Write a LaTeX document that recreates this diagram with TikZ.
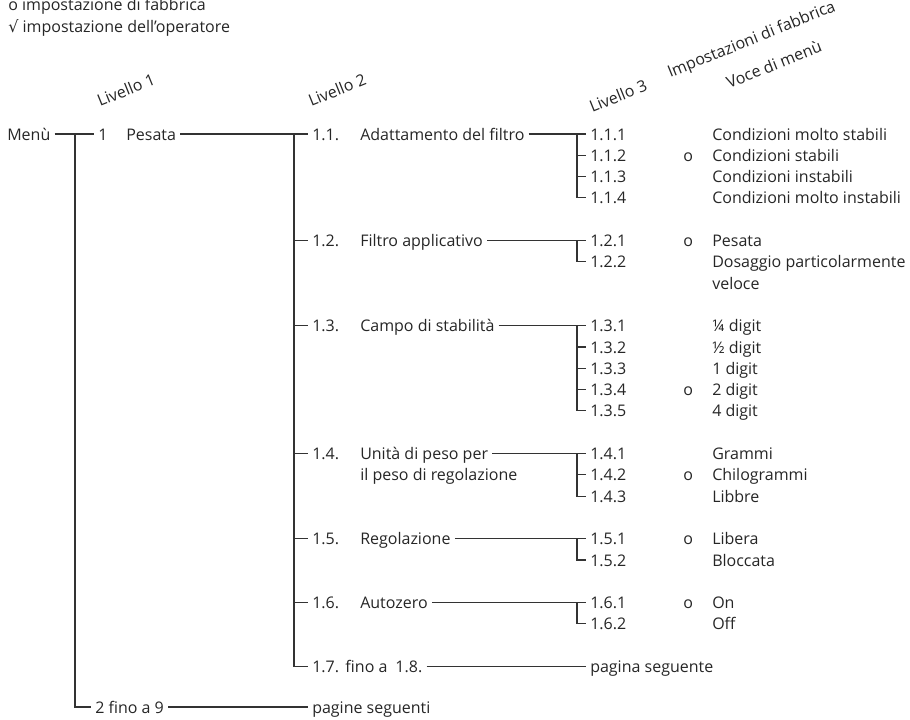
\documentclass[tikz,border=0pt]{standalone}
\usepackage{fontspec}
\setmainfont{Open Sans}
\newfontfamily\symfont{DejaVu Sans}
\begin{document}
\begin{tikzpicture}[x=0.75pt,y=-0.75pt,
  every node/.style={font=\fontsize{12}{16}\selectfont,text=black!85},
  lbl/.style={anchor=west,inner xsep=3pt,inner ysep=0pt,text height=9pt,text depth=0pt},
  hdr/.style={anchor=base west,inner sep=0pt,rotate=22},
  tree/.style={draw=black!80,line width=0.8pt}]
  \useasboundingbox (0,0) rectangle (910,719);

  % legend
  \node[lbl] (leg1) at (4,4.5) {o impostazione di fabbrica};
  \node[lbl] (leg2) at (4,26) {{\symfont √} impostazione dell’operatore};

  % column heads
  \node[hdr] (hd1) at (100,107) {Livello 1};
  \node[hdr] (hd2) at (311,107) {Livello 2};
  \node[hdr] (hd3) at (592,113) {Livello 3};
  \node[hdr] (hd4) at (670,78) {Impostazioni di fabbrica};
  \node[hdr] (hd5) at (729,89) {Voce di menù};

  % spine positions
  \coordinate (s1) at (75,0);
  \coordinate (s2) at (294,0);
  \coordinate (s3) at (577,0);

  % level 1
  \node[lbl] (menu) at (3,134) {Menù};
  \node[lbl] (n1) at (94,134) {1};
  \node[lbl] (pesata) at (122,134) {Pesata};
  \node[lbl] (n2) at (91,707) {2 fino a 9};
  \node[lbl] (more2) at (308,707) {pagine seguenti};

  % level 2
  \node[lbl] (n11) at (308,134) {1.1.};
  \node[lbl] (l11) at (356,134) {Adattamento del filtro};
  \node[lbl] (n12) at (308,240.5) {1.2.};
  \node[lbl] (l12) at (356,240.5) {Filtro applicativo};
  \node[lbl] (n13) at (308,325.7) {1.3.};
  \node[lbl] (l13) at (356,325.7) {Campo di stabilità};
  \node[lbl] (n14) at (308,453.5) {1.4.};
  \node[lbl] (l14) at (356,453.5) {Unità di peso per};
  \node[lbl] (l14b) at (356,474.8) {il peso di regolazione};
  \node[lbl] (n15) at (308,538.7) {1.5.};
  \node[lbl] (l15) at (356,538.7) {Regolazione};
  \node[lbl] (n16) at (308,602.6) {1.6.};
  \node[lbl] (l16) at (356,602.6) {Autozero};
  \node[lbl] (n17) at (308,666.5) {1.7.\hspace{0.4em}fino a\hspace{0.5em}1.8.};
  \node[lbl] (more1) at (586,666.5) {pagina seguente};

  % level 3
  \node[lbl] (n111) at (586,134) {1.1.1};
  \node[lbl] (v111) at (708,134) {Condizioni molto stabili};
  \node[lbl] (n112) at (586,155.3) {1.1.2};
  \node[lbl] (o112) at (679,155.3) {o};
  \node[lbl] (v112) at (708,155.3) {Condizioni stabili};
  \node[lbl] (n113) at (586,176.6) {1.1.3};
  \node[lbl] (v113) at (708,176.6) {Condizioni instabili};
  \node[lbl] (n114) at (586,197.9) {1.1.4};
  \node[lbl] (v114) at (708,197.9) {Condizioni molto instabili};

  \node[lbl] (n121) at (586,240.5) {1.2.1};
  \node[lbl] (o121) at (679,240.5) {o};
  \node[lbl] (v121) at (708,240.5) {Pesata};
  \node[lbl] (n122) at (586,261.8) {1.2.2};
  \node[lbl] (v122) at (708,261.8) {Dosaggio particolarmente};
  \node[lbl] (v122b) at (708,283.1) {veloce};

  \node[lbl] (n131) at (586,325.7) {1.3.1};
  \node[lbl] (v131) at (708,325.7) {¼ digit};
  \node[lbl] (n132) at (586,347) {1.3.2};
  \node[lbl] (v132) at (708,347) {½ digit};
  \node[lbl] (n133) at (586,368.3) {1.3.3};
  \node[lbl] (v133) at (708,368.3) {1 digit};
  \node[lbl] (n134) at (586,389.6) {1.3.4};
  \node[lbl] (o134) at (679,389.6) {o};
  \node[lbl] (v134) at (708,389.6) {2 digit};
  \node[lbl] (n135) at (586,410.9) {1.3.5};
  \node[lbl] (v135) at (708,410.9) {4 digit};

  \node[lbl] (n141) at (586,453.5) {1.4.1};
  \node[lbl] (v141) at (708,453.5) {Grammi};
  \node[lbl] (n142) at (586,474.8) {1.4.2};
  \node[lbl] (o142) at (679,474.8) {o};
  \node[lbl] (v142) at (708,474.8) {Chilogrammi};
  \node[lbl] (n143) at (586,496.1) {1.4.3};
  \node[lbl] (v143) at (708,496.1) {Libbre};

  \node[lbl] (n151) at (586,538.7) {1.5.1};
  \node[lbl] (o151) at (679,538.7) {o};
  \node[lbl] (v151) at (708,538.7) {Libera};
  \node[lbl] (n152) at (586,560) {1.5.2};
  \node[lbl] (v152) at (708,560) {Bloccata};

  \node[lbl] (n161) at (586,602.6) {1.6.1};
  \node[lbl] (o161) at (679,602.6) {o};
  \node[lbl] (v161) at (708,602.6) {On};
  \node[lbl] (n162) at (586,623.9) {1.6.2};
  \node[lbl] (v162) at (708,623.9) {Off};

  % connectors, level 1
  \draw[tree] (menu.east) -- (n1.west);
  \draw[tree] (menu.east -| s1) |- (n2.west);
  \draw[tree] (n2.east) -- (more2.west);
  \draw[tree] (pesata.east) -- (n11.west);

  % connectors, level 2
  \draw[tree] (n11.west -| s2) |- (n17.west);
  \draw[tree] (n12.west -| s2) -- (n12.west);
  \draw[tree] (n13.west -| s2) -- (n13.west);
  \draw[tree] (n14.west -| s2) -- (n14.west);
  \draw[tree] (n15.west -| s2) -- (n15.west);
  \draw[tree] (n16.west -| s2) -- (n16.west);
  \draw[tree] (n17.east) -- (more1.west);

  % connectors, level 3
  \draw[tree] (l11.east) -- (n111.west);
  \draw[tree] (n111.west -| s3) |- (n114.west);
  \draw[tree] (n112.west -| s3) -- (n112.west);
  \draw[tree] (n113.west -| s3) -- (n113.west);

  \draw[tree] (l12.east) -- (n121.west);
  \draw[tree] (n121.west -| s3) |- (n122.west);

  \draw[tree] (l13.east) -- (n131.west);
  \draw[tree] (n131.west -| s3) |- (n135.west);
  \draw[tree] (n132.west -| s3) -- (n132.west);
  \draw[tree] (n133.west -| s3) -- (n133.west);
  \draw[tree] (n134.west -| s3) -- (n134.west);

  \draw[tree] (l14.east) -- (n141.west);
  \draw[tree] (n141.west -| s3) |- (n143.west);
  \draw[tree] (n142.west -| s3) -- (n142.west);

  \draw[tree] (l15.east) -- (n151.west);
  \draw[tree] (n151.west -| s3) |- (n152.west);

  \draw[tree] (l16.east) -- (n161.west);
  \draw[tree] (n161.west -| s3) |- (n162.west);
\end{tikzpicture}
\end{document}
